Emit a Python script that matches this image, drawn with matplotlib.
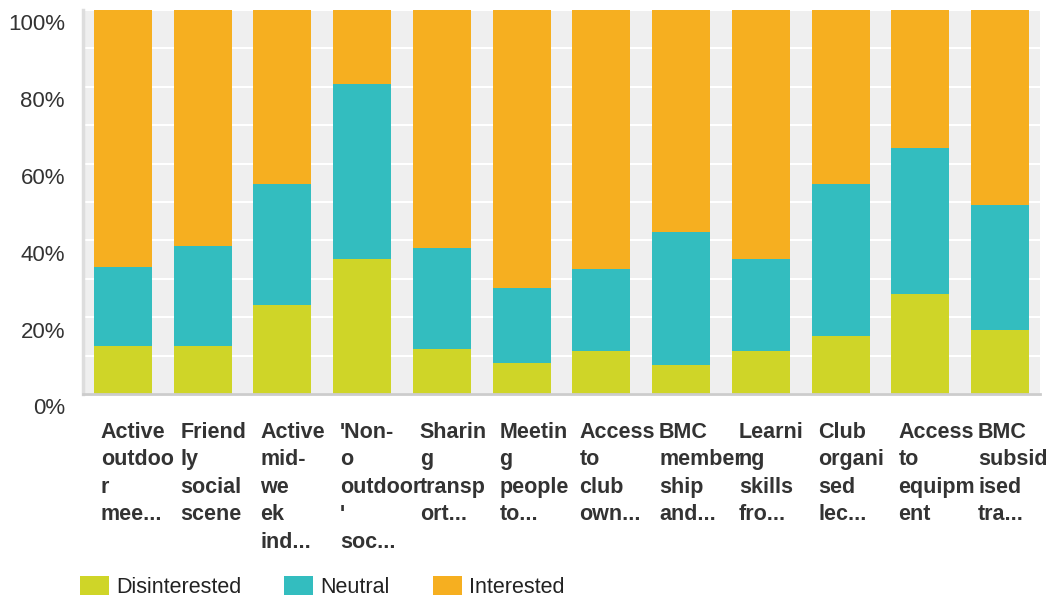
import numpy as np
import matplotlib.pyplot as plt
from matplotlib.patches import Patch
from matplotlib.ticker import MultipleLocator, FuncFormatter
import matplotlib.transforms as mtransforms

plt.rcParams['font.family'] = ['Liberation Sans', 'DejaVu Sans']

# Categories (labels wrapped as in the original survey export)
categories = [
    "Active\noutdoo\nr\nmee...",
    "Friend\nly\nsocial\nscene",
    "Active\nmid-\nwe\nek\nind...",
    "'Non-\no\noutdoor\n'\nsoc...",
    "Sharin\ng\ntransp\nort...",
    "Meetin\ng\npeople\nto...",
    "Access\nto\nclub\nown...",
    "BMC\nmember\nship\nand...",
    "Learni\nng\nskills\nfro...",
    "Club\norgani\nsed\nlec...",
    "Access\nto\nequipm\nent",
    "BMC\nsubsid\nised\ntra...",
]

# Percentages per answer
disinterested = [12.5, 12.5, 23.2, 35.2, 11.7, 8.1, 11.2, 7.6, 11.2, 15.1, 26.1, 16.7]
neutral = [20.6, 26.0, 31.6, 45.5, 26.4, 19.6, 21.4, 34.7, 24.0, 39.7, 38.0, 32.5]
interested = [100 - d - n for d, n in zip(disinterested, neutral)]

series_names = ["Disinterested", "Neutral", "Interested"]
colors = ["#CFD528", "#33BDBF", "#F6AF20"]

fig = plt.figure(figsize=(10.47, 5.99), dpi=100)
ax = fig.add_axes([83 / 1047, 1 - 394 / 599, 957 / 1047, 384 / 599])
ax.set_facecolor("#EFEFEF")

x = np.arange(len(categories))
bottom = np.zeros(len(categories))
handles = []
for name, vals, c in zip(series_names, [disinterested, neutral, interested], colors):
    ax.bar(x, vals, width=0.727, bottom=bottom, color=c, linewidth=0, zorder=2)
    bottom += np.array(vals)
    handles.append(Patch(facecolor=c, edgecolor="none", label=name))

ax.set_xlim(-0.5, len(categories) - 0.5)
ax.set_ylim(0, 100)
ax.yaxis.set_major_locator(MultipleLocator(20))
ax.yaxis.set_minor_locator(MultipleLocator(10))
ax.yaxis.set_major_formatter(FuncFormatter(lambda v, p: f"{v:.0f}%"))
ax.grid(True, which="both", axis="y", color="white", linewidth=1.5, zorder=1)
ax.set_axisbelow(True)
ax.set_xticks([])
ax.tick_params(axis="y", which="both", length=0, pad=13, labelsize=16, labelcolor="#333333")
offset = mtransforms.ScaledTranslation(0, -12.5 / 100, fig.dpi_scale_trans)
for lab in ax.get_yticklabels():
    lab.set_transform(lab.get_transform() + offset)

for s in ["top", "right"]:
    ax.spines[s].set_visible(False)
ax.spines["bottom"].set_color("#CCCCCC")
ax.spines["bottom"].set_linewidth(2)
ax.spines["left"].set_color("#DDDDDD")
ax.spines["left"].set_linewidth(2.5)

for i, lab in enumerate(categories):
    ax.annotate(lab, xy=(i - 0.276, 0), xycoords=("data", "axes fraction"),
                xytext=(0, -28), textcoords="offset pixels",
                ha="left", va="top", fontsize=15.5, fontweight="bold",
                color="#333333", linespacing=1.40, annotation_clip=False)

fig.legend(handles=handles, loc="lower left", bbox_to_anchor=(80 / 1047, 1 / 599),
           ncol=3, frameon=False, fontsize=15.5, borderpad=0, borderaxespad=0,
           handlelength=1.35, handleheight=1.0, handletextpad=0.32,
           columnspacing=2.0, labelcolor="#222222")

fig.savefig("out.png", dpi=100)
